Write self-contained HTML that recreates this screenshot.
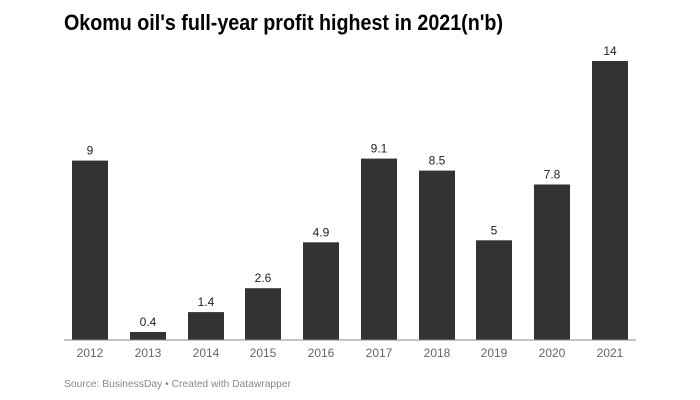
<!DOCTYPE html>
<html><head><meta charset="utf-8"><style>
html,body{margin:0;padding:0;background:#fff;}
svg{display:block;font-family:"Liberation Sans",sans-serif;}
</style></head><body>
<svg width="700" height="400" viewBox="0 0 700 400" xmlns="http://www.w3.org/2000/svg">
<text x="64" y="30" font-size="22" font-weight="bold" fill="#000" textLength="439" lengthAdjust="spacingAndGlyphs">Okomu oil's full-year profit highest in 2021(n'b)</text>
<g fill="#333333">
<rect x="72" y="160.6" width="36" height="179.4"/>
<rect x="130" y="332" width="36" height="8"/>
<rect x="188" y="312.1" width="36" height="27.9"/>
<rect x="245" y="288.2" width="36" height="51.8"/>
<rect x="303" y="242.3" width="36" height="97.7"/>
<rect x="361" y="158.6" width="36" height="181.4"/>
<rect x="419" y="170.6" width="36" height="169.4"/>
<rect x="476" y="240.3" width="36" height="99.7"/>
<rect x="534" y="184.5" width="36" height="155.5"/>
<rect x="592" y="61" width="36" height="279"/>
</g>
<line x1="64" y1="340" x2="636" y2="340" stroke="#888" stroke-width="1"/>
<g font-size="12" fill="#222" text-anchor="middle">
<text x="90" y="154.6">9</text>
<text x="148" y="326">0.4</text>
<text x="206" y="306.1">1.4</text>
<text x="263" y="282.2">2.6</text>
<text x="321" y="236.3">4.9</text>
<text x="379" y="152.6">9.1</text>
<text x="437" y="164.6">8.5</text>
<text x="494" y="234.3">5</text>
<text x="552" y="178.5">7.8</text>
<text x="610" y="55">14</text>
</g>
<g font-size="12" fill="#666" text-anchor="middle">
<text x="90" y="357">2012</text>
<text x="148" y="357">2013</text>
<text x="206" y="357">2014</text>
<text x="263" y="357">2015</text>
<text x="321" y="357">2016</text>
<text x="379" y="357">2017</text>
<text x="437" y="357">2018</text>
<text x="494" y="357">2019</text>
<text x="552" y="357">2020</text>
<text x="610" y="357">2021</text>
</g>
<text x="64" y="387" font-size="10.5" fill="#888" textLength="227" lengthAdjust="spacingAndGlyphs">Source: BusinessDay • Created with Datawrapper</text>
</svg>
</body></html>
